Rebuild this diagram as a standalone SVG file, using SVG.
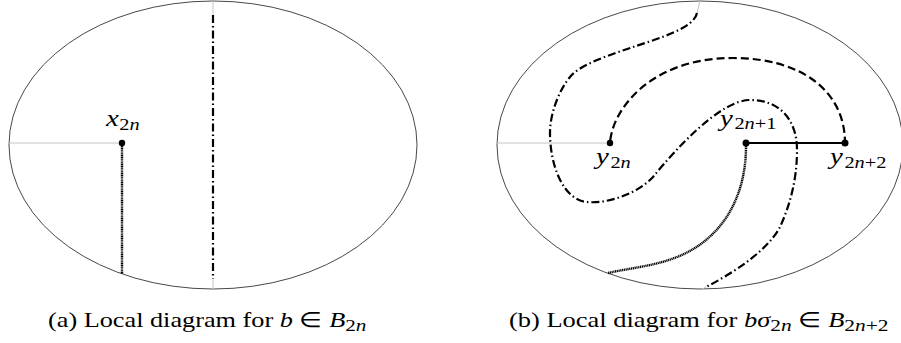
<svg xmlns="http://www.w3.org/2000/svg" width="901" height="343" viewBox="0 0 901 343">
<style>
.ell{fill:none;stroke:#333;stroke-width:0.9}
.guide{fill:none;stroke:#c4c4c4;stroke-width:1}
.dd{fill:none;stroke:#000;stroke-width:2.2;stroke-dasharray:8 3 1.5 3}
.dash{fill:none;stroke:#000;stroke-width:2.2;stroke-dasharray:8 4}
.dot{fill:none;stroke:#000;stroke-width:2.4;stroke-dasharray:1.2 0.6}
.sol{fill:none;stroke:#000;stroke-width:2}
.pt{fill:#000}
.mi{font-style:italic;font-size:24px}
.sub{font-size:17px}
.cap{font-size:21px}
.it{font-style:italic}
</style>
<g id="panel-a">
<ellipse class="ell" cx="213" cy="145" rx="204" ry="144"/>
<line class="guide" x1="9" y1="143" x2="122" y2="143"/>
<line class="guide" x1="213" y1="1" x2="213" y2="15"/>
<line class="guide" x1="213" y1="279" x2="213" y2="289"/>
</g>
<g id="connectors-a">
<line class="dot" x1="122" y1="146" x2="122" y2="274"/>
<line class="dd" x1="213" y1="15" x2="213" y2="279"/>
</g>
<g id="node-x2n">
<circle class="pt" cx="122" cy="143" r="3.2"/>
<g transform="translate(106,126) scale(1.2,1)">
<text class="mi" x="0" y="0" font-family="Liberation Serif, Times New Roman, serif">x</text>
<text class="sub" x="11" y="4" font-family="Liberation Serif, Times New Roman, serif">2<tspan class="it">n</tspan></text>
</g>
</g>
<g id="panel-b">
<ellipse class="ell" cx="700" cy="145" rx="203" ry="144"/>
<line class="guide" x1="497" y1="143" x2="610" y2="143"/>
<line class="guide" x1="700" y1="1" x2="697" y2="13"/>
<line class="guide" x1="706" y1="287" x2="702" y2="289"/>
</g>
<g id="connectors-b">
<path class="dd" d="M697,13 C694,28 660,38 633,47 C613,54 580,64 570,77 C560,89 550,112 550,133 C550,165 563,200 587,202 C609,204 638,193 653,177 C675,150 720,100 750,100 C780,100 797,120 797,150 C797,180 790,205 780,227 C768,250 735,272 706,287"/>
<path class="dash" d="M610,143 C612,110 650,58 733,58 C800,58 845,90 845,143" stroke-dashoffset="-3"/>
<path class="dot" d="M746,146 C746,200 720,240 677,257 C655,266 630,268 608,273"/>
<line class="sol" x1="746" y1="143" x2="845" y2="143"/>
</g>
<g id="node-y2n">
<circle class="pt" cx="610" cy="143" r="3.2"/>
<g transform="translate(596,164) scale(1.2,1)">
<text class="mi" x="0" y="0" font-family="Liberation Serif, Times New Roman, serif">y</text>
<text class="sub" x="12" y="4" font-family="Liberation Serif, Times New Roman, serif">2<tspan class="it">n</tspan></text>
</g>
</g>
<g id="node-y2n1">
<circle class="pt" cx="746" cy="143" r="3.5"/>
<g transform="translate(720,126) scale(1.2,1)">
<text class="mi" x="0" y="0" font-family="Liberation Serif, Times New Roman, serif">y</text>
<text class="sub" x="12" y="3" font-family="Liberation Serif, Times New Roman, serif">2<tspan class="it">n</tspan>+1</text>
</g>
</g>
<g id="node-y2n2">
<circle class="pt" cx="845" cy="143" r="3.5"/>
<g transform="translate(830,164) scale(1.2,1)">
<text class="mi" x="0" y="0" font-family="Liberation Serif, Times New Roman, serif">y</text>
<text class="sub" x="12" y="4" font-family="Liberation Serif, Times New Roman, serif">2<tspan class="it">n</tspan>+2</text>
</g>
</g>
<g id="captions">
<g transform="translate(48,327) scale(1.25,1)">
<text class="cap" x="0" y="0" font-family="Liberation Serif, Times New Roman, serif">(a) Local diagram for <tspan class="it">b</tspan> ∈ <tspan class="it">B</tspan><tspan class="sub" dy="4">2<tspan class="it">n</tspan></tspan></text>
</g>
<g transform="translate(509,327) scale(1.26,1)">
<text class="cap" x="0" y="0" font-family="Liberation Serif, Times New Roman, serif">(b) Local diagram for <tspan class="it">bσ</tspan><tspan class="sub" dy="4">2<tspan class="it">n</tspan></tspan><tspan dy="-4"> ∈ </tspan><tspan class="it">B</tspan><tspan class="sub" dy="4">2<tspan class="it">n</tspan>+2</tspan></text>
</g>
</g>
</svg>
